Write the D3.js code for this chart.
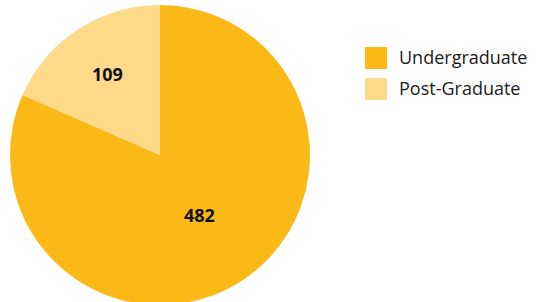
<!DOCTYPE html>
<html>
<head>
<meta charset="utf-8">
<script src="https://cdn.jsdelivr.net/npm/d3@7"></script>
<style>
  body { margin: 0; background: #fff; }
  #chart { width: 539px; height: 302px; }
</style>
</head>
<body>
<div id="chart"></div>
<script>
const categories = ["Undergraduate", "Post-Graduate"];
const values = [482, 109];
const colors = ["#FBB917", "#FDD98A"];

function renderPie(container) {
  container.innerHTML = '';
  const width = 539, height = 302;
  const cx = 160, cy = 155, radius = 150;

  const svg = d3.select(container)
    .append("svg")
    .attr("width", width)
    .attr("height", height);

  const g = svg.append("g")
    .attr("transform", `translate(${cx},${cy})`);

  const data = categories.map((c, i) => ({name: c, value: values[i], color: colors[i]}));

  // first slice starts at 12 o'clock going clockwise, second fills the rest
  const pie = d3.pie().sort(null).value(d => d.value);
  const arcs = pie(data);
  const arc = d3.arc().innerRadius(0).outerRadius(radius);

  g.selectAll("path")
    .data(arcs)
    .enter()
    .append("path")
    .attr("d", arc)
    .attr("fill", d => d.data.color);

  g.selectAll(".label")
    .data(arcs)
    .enter()
    .append("text")
    .attr("class", "label")
    .attr("transform", d => {
      const small = (d.endAngle - d.startAngle) < 1.5;
      const r = radius * (small ? 0.64 : 0.48);
      const a = (d.startAngle + d.endAngle) / 2;
      return `translate(${Math.sin(a) * r},${-Math.cos(a) * r})`;
    })
    .attr("text-anchor", "middle")
    .attr("dy", "0.35em")
    .attr("font-family", "'Open Sans', sans-serif")
    .attr("font-weight", "bold")
    .attr("font-size", 18)
    .attr("fill", "#111")
    .text(d => d.data.value);

  const legend = svg.append("g")
    .attr("transform", "translate(365,47)");

  const item = legend.selectAll(".item")
    .data(data)
    .enter()
    .append("g")
    .attr("class", "item")
    .attr("transform", (d, i) => `translate(0,${i * 31})`);

  item.append("rect")
    .attr("width", 22)
    .attr("height", 22)
    .attr("fill", d => d.color);

  item.append("text")
    .attr("x", 34)
    .attr("y", 11)
    .attr("dy", "0.35em")
    .attr("font-family", "'Open Sans', sans-serif")
    .attr("font-size", 18)
    .attr("fill", "#1a1a1a")
    .text(d => d.name);
}

renderPie(document.getElementById("chart"));
</script>
</body>
</html>
